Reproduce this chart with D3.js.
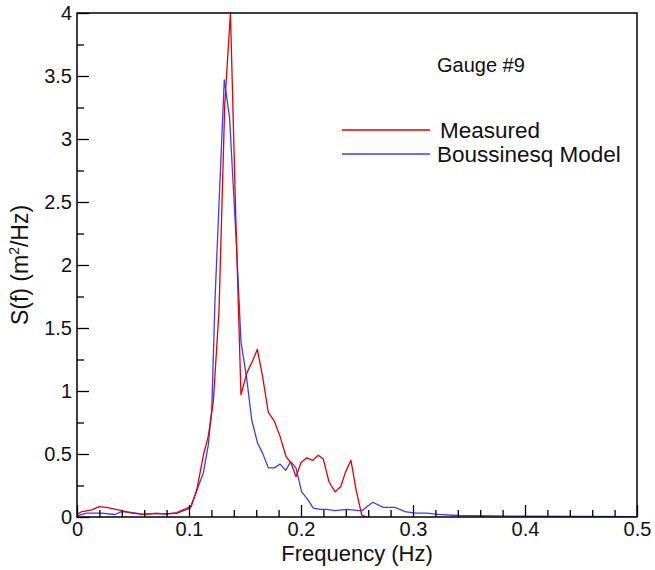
<!DOCTYPE html>
<html>
<head>
<meta charset="utf-8">
<script src="https://cdn.jsdelivr.net/npm/d3@7"></script>
<style>
  html, body { margin: 0; padding: 0; background: #fff; }
  svg { display: block; font-family: "Liberation Sans", Arial, sans-serif; }
</style>
</head>
<body>
<svg id="chart" width="655" height="570"></svg>
<script>
// ---- data ----
const freqMeasured = [0.000, 0.0036, 0.0131, 0.0199, 0.0265, 0.0399, 0.0503, 0.0607, 0.0712, 0.0801, 0.089, 0.102, 0.1069, 0.1128, 0.1172, 0.1217, 0.1268, 0.1319, 0.137, 0.1417, 0.1464, 0.1515, 0.1563, 0.161, 0.1658, 0.1708, 0.1762, 0.1813, 0.1866, 0.1911, 0.1955, 0.2, 0.2051, 0.2104, 0.2154, 0.2199, 0.225, 0.2304, 0.2354, 0.2399, 0.2446, 0.2491, 0.2542, 0.2587];
const sMeasured    = [0.02, 0.04, 0.056, 0.082, 0.077, 0.05, 0.029, 0.021, 0.029, 0.024, 0.034, 0.085, 0.214, 0.49, 0.64, 0.915, 1.64, 3.27, 4.0, 2.4, 0.97, 1.14, 1.23, 1.33, 1.11, 0.83, 0.76, 0.64, 0.48, 0.43, 0.32, 0.43, 0.47, 0.45, 0.49, 0.46, 0.28, 0.2, 0.24, 0.36, 0.45, 0.22, 0.016, 0.0];

const freqModel = [0.000, 0.0087, 0.022, 0.0339, 0.0399, 0.0503, 0.0592, 0.0696, 0.0801, 0.089, 0.1009, 0.1038, 0.1128, 0.1172, 0.1203, 0.1232, 0.1272, 0.1315, 0.1362, 0.1426, 0.1464, 0.1515, 0.156, 0.1613, 0.1658, 0.1708, 0.1762, 0.1813, 0.1863, 0.1908, 0.1955, 0.2006, 0.2051, 0.211, 0.217, 0.223, 0.2304, 0.2408, 0.2542, 0.264, 0.2735, 0.2839, 0.2929, 0.3018, 0.3122, 0.3226, 0.34, 0.36, 0.40, 0.45, 0.50];
const sModel    = [0.008, 0.03, 0.03, 0.02, 0.042, 0.034, 0.021, 0.029, 0.024, 0.029, 0.07, 0.135, 0.35, 0.57, 0.85, 1.72, 2.57, 3.47, 3.17, 2.12, 1.39, 1.1, 0.77, 0.585, 0.505, 0.39, 0.39, 0.42, 0.37, 0.44, 0.39, 0.2, 0.15, 0.07, 0.061, 0.061, 0.05, 0.061, 0.048, 0.117, 0.077, 0.077, 0.042, 0.03, 0.03, 0.021, 0.012, 0.01, 0.006, 0.004, 0.003];

const xTicks = [0, 0.1, 0.2, 0.3, 0.4, 0.5];
const yTicks = [0, 0.5, 1, 1.5, 2, 2.5, 3, 3.5, 4];
const seriesNames = ["Measured", "Boussinesq Model"];
const seriesColors = ["#e60000", "#3c3cff"];
const titleText = "Gauge #9";

// ---- layout ----
const svg = d3.select("#chart");
const L = 77, R = 637, T = 13, B = 517;
const x = d3.scaleLinear().domain([0, 0.5]).range([L, R]);
const y = d3.scaleLinear().domain([0, 4]).range([B, T]);

const xMinor = d3.range(0, 0.5001, 0.02).filter(v => Math.abs(v * 10 - Math.round(v * 10)) > 1e-6);
const yMinor = d3.range(0, 4.001, 0.25).filter(v => Math.abs(v * 2 - Math.round(v * 2)) > 1e-6);

svg.append("defs").append("clipPath").attr("id", "clip")
  .append("rect").attr("x", L).attr("y", T - 1).attr("width", R - L).attr("height", B - T + 1);

// lines
const data = [
  freqMeasured.map((f, i) => [f, sMeasured[i]]),
  freqModel.map((f, i) => [f, sModel[i]])
];
const line = d3.line().x(d => x(d[0])).y(d => y(d[1]));
const g = svg.append("g").attr("clip-path", "url(#clip)");
[1, 0].forEach(i => {
  g.append("path").datum(data[i])
    .attr("fill", "none").attr("stroke", seriesColors[i])
    .attr("stroke-width", 1.3).attr("stroke-linejoin", "round")
    .attr("d", line);
});

// axes
const fmt = d => String(+d.toFixed(2));
const xAxis = svg.append("g").attr("transform", `translate(0,${B})`)
  .call(d3.axisBottom(x).tickValues(xTicks).tickSizeInner(-12).tickSizeOuter(0).tickPadding(5).tickFormat(fmt));
const xAxisMinor = svg.append("g").attr("transform", `translate(0,${B})`)
  .call(d3.axisBottom(x).tickValues(xMinor).tickSizeInner(-7).tickSizeOuter(0).tickFormat(""));
const yAxis = svg.append("g").attr("transform", `translate(${L},0)`)
  .call(d3.axisLeft(y).tickValues(yTicks).tickSizeInner(-12).tickSizeOuter(0).tickPadding(5).tickFormat(fmt));
const yAxisMinor = svg.append("g").attr("transform", `translate(${L},0)`)
  .call(d3.axisLeft(y).tickValues(yMinor).tickSizeInner(-7).tickSizeOuter(0).tickFormat(""));

[xAxis, xAxisMinor, yAxis, yAxisMinor].forEach(a => {
  a.select(".domain").remove();
  a.selectAll(".tick line").attr("stroke", "#000").attr("stroke-width", 1.3);
  a.selectAll(".tick text").attr("font-size", 20).attr("fill", "#111")
    .attr("font-family", "'Liberation Sans', Arial, sans-serif");
});

// frame
svg.append("rect").attr("x", L).attr("y", T).attr("width", R - L).attr("height", B - T)
  .attr("fill", "none").attr("stroke", "#000").attr("stroke-width", 1.5);

// axis titles
svg.append("text").attr("x", 357).attr("y", 561).attr("text-anchor", "middle")
  .attr("font-size", 22).attr("fill", "#111").text("Frequency (Hz)");

const yt = svg.append("text").attr("transform", `translate(28,${(T + B) / 2}) rotate(-90)`)
  .attr("text-anchor", "middle").attr("font-size", 23).attr("fill", "#111");
yt.append("tspan").text("S(f) (m");
yt.append("tspan").attr("font-size", 14).attr("dy", -9).text("2");
yt.append("tspan").attr("dy", 9).text("/Hz)");

// title & legend
svg.append("text").attr("x", 437).attr("y", 72).attr("font-size", 20).attr("fill", "#111").text(titleText);

const legY = [130, 154];
seriesNames.forEach((name, i) => {
  svg.append("line").attr("x1", 342).attr("x2", 430).attr("y1", legY[i]).attr("y2", legY[i])
    .attr("stroke", seriesColors[i]).attr("stroke-width", 1.3);
  svg.append("text").attr("x", i === 0 ? 440 : 437).attr("y", legY[i] + 8)
    .attr("font-size", 22.5).attr("fill", "#111").text(name);
});
</script>
</body>
</html>
